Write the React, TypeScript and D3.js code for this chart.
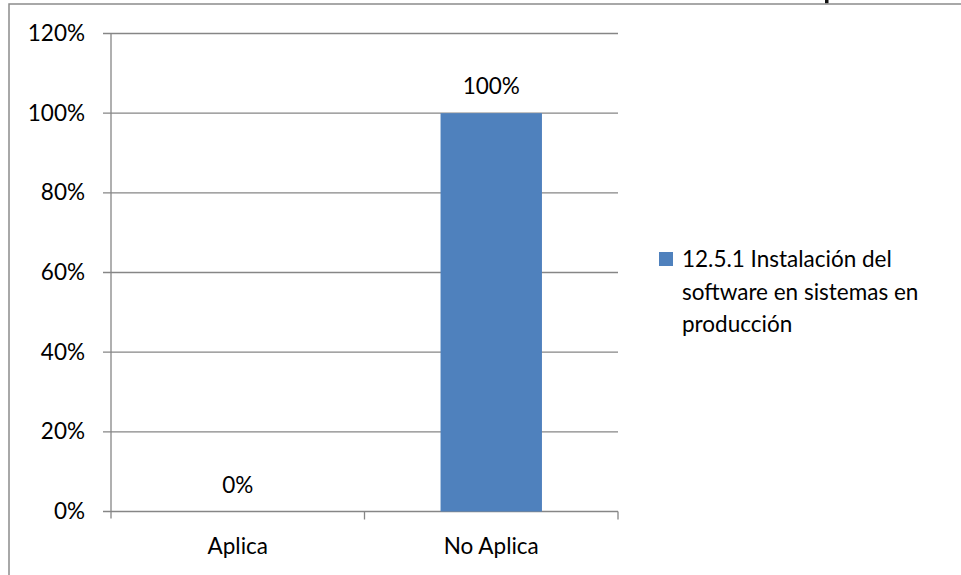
import React from "react";
import * as d3 from "d3";

const categories = ["Aplica", "No Aplica"];
const values = [0, 1];
const seriesName = "12.5.1 Instalación del software en sistemas en producción";
const legendLines = ["12.5.1 Instalación del", "software en sistemas en", "producción"];
const yTicks = [0, 0.2, 0.4, 0.6, 0.8, 1.0, 1.2];

const W = 961;
const H = 575;
const FONT = "Lato, 'Open Sans', sans-serif";
const FS = 22.5;
const GRID = "#868686";
const BAR = "#4f81bd";

export default function App() {
  const plot = { left: 111, right: 618, top: 33.5, bottom: 511.5 };
  const y = d3.scaleLinear().domain([0, 1.2]).range([plot.bottom, plot.top]);
  const x = d3.scaleBand<string>().domain(categories).range([plot.left, plot.right]).paddingInner(0).paddingOuter(0);
  const bw = x.bandwidth() * 0.4;
  const pct = d3.format(".0%");

  return (
    <div style={{ position: "fixed", left: 0, top: 0 }}>
      <svg width={W} height={H} style={{ display: "block", background: "#fff" }} aria-label={seriesName}>
        {/* tail of the heading glyph showing above the frame */}
        <rect x={825} y={0} width={3.5} height={3.5} fill="#111" />
        {/* chart frame */}
        <rect x={9} y={4} width={W + 10} height={H + 10} fill="none" stroke="#8c8c8c" strokeWidth={1.5} />

        {/* gridlines and y ticks */}
        {yTicks.map((t) => (
          <g key={t}>
            <line x1={plot.left - 8} x2={plot.right} y1={y(t)} y2={y(t)} stroke={GRID} strokeWidth={1.3} />
            <text x={85} y={y(t) + 7.5} textAnchor="end" fontFamily={FONT} fontSize={FS} fill="#000">
              {pct(t)}
            </text>
          </g>
        ))}

        {/* y axis */}
        <line x1={plot.left} x2={plot.left} y1={plot.top} y2={plot.bottom + 7} stroke={GRID} strokeWidth={1.3} />
        {/* x axis ticks */}
        {categories.map((c) => (
          <line key={c} x1={x(c)! + x.bandwidth()} x2={x(c)! + x.bandwidth()} y1={plot.bottom} y2={plot.bottom + 8} stroke={GRID} strokeWidth={1.3} />
        ))}

        {/* bars with value labels and category labels */}
        {categories.map((c, i) => {
          const cx = x(c)! + x.bandwidth() / 2;
          return (
            <g key={c}>
              <rect x={cx - bw / 2} y={y(values[i])} width={bw} height={plot.bottom - y(values[i])} fill={BAR} />
              <text x={cx} y={y(values[i]) - 19} textAnchor="middle" fontFamily={FONT} fontSize={FS} fill="#000">
                {pct(values[i])}
              </text>
              <text x={cx} y={553.5} textAnchor="middle" fontFamily={FONT} fontSize={FS} fill="#000">
                {c}
              </text>
            </g>
          );
        })}

        {/* legend */}
        <rect x={659} y={252} width={14} height={14} fill={BAR} />
        {legendLines.map((l, i) => (
          <text key={i} x={682} y={267 + i * 32.5} fontFamily={FONT} fontSize={FS} fill="#000">
            {l}
          </text>
        ))}
      </svg>
    </div>
  );
}
